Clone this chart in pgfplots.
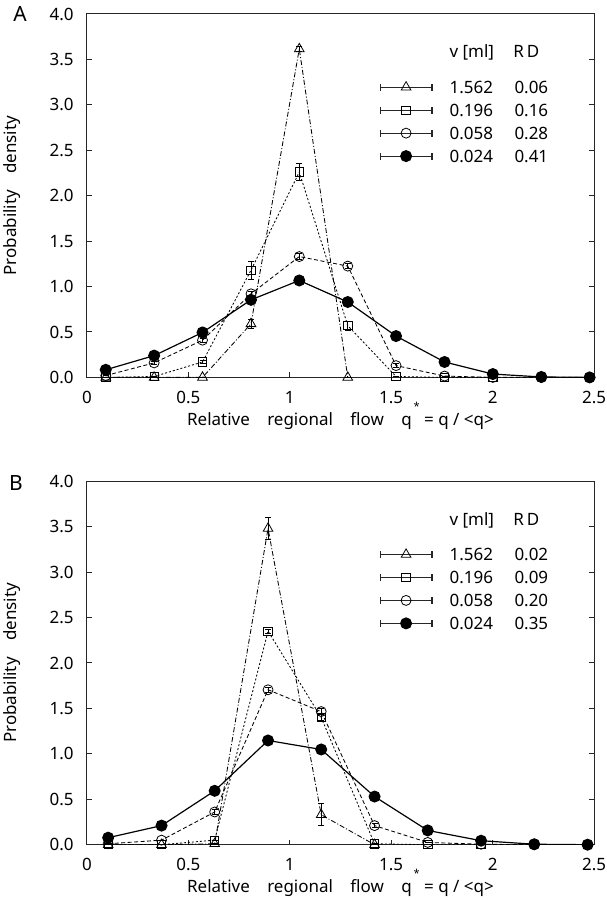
\documentclass[border=0pt]{standalone}
\usepackage{pgfplots}
\pgfplotsset{compat=1.18}
\usepackage{fontspec}
\setmainfont{Noto Sans}
\newcommand{\fs}{\fontsize{17bp}{20bp}\selectfont}
\newcommand{\qstar}{q\hspace{2bp}\raisebox{15bp}{\fontsize{11bp}{12bp}\selectfont *}}
\pgfplotsset{
  myaxis/.style={
    scale only axis, width=508bp, height=364bp,
    xmin=0, xmax=2.5, ymin=0, ymax=4,
    xtick={0,0.5,1,1.5,2,2.5}, xticklabels={0,0.5,1,1.5,2,2.5},
    ytick={0,0.5,1,1.5,2,2.5,3,3.5,4},
    yticklabels={0.0,0.5,1.0,1.5,2.0,2.5,3.0,3.5,4.0},
    tick align=inside, xtick pos=bottom, ytick pos=both, yticklabel pos=left,
    major tick length=5bp,
    axis line style={line width=1bp, black!85},
    every tick/.style={line width=1bp, black!85},
    tick label style={font=\fs},
    /pgf/number format/assume math mode=true,
    xticklabel style={anchor=base, inner sep=0pt, yshift=-26bp},
    yticklabel style={anchor=east, inner sep=0pt, xshift=-13bp},
    every axis y label/.style={at={(axis description cs:-0.148,0.5)}, rotate=90, anchor=center, font=\fs},
    every axis x label/.style={at={(axis description cs:0.5,0)}, anchor=base, yshift=-48bp, font=\fs},
    ylabel={Probability\hspace{12bp} density},
    xlabel={Relative\hspace{13bp} regional\hspace{13bp} flow\hspace{13bp} \qstar{} = q / <q>},
    legend style={draw=none, fill=none, inner sep=0pt, outer sep=0pt,
      at={(0.577,0.815)}, anchor=north west, font=\fs,
      nodes={inner sep=0pt, text height=12bp, text depth=0bp},
      row sep=11bp, column sep=17bp},
    legend cell align=left,
    legend image code/.code={
      \draw[solid, line width=1.2bp, black!85] (0bp,0bp) -- (52bp,0bp);
      \draw[solid, line width=1.2bp, black!85] (0bp,-3.5bp) -- (0bp,3.5bp) (52bp,-3.5bp) -- (52bp,3.5bp);
      \draw[solid] plot coordinates {(26bp,0bp)};
    },
  },
  tri/.style={black, line width=0.85bp, dash pattern=on 5bp off 2bp on 1bp off 2bp,
    mark=triangle, mark size=5.6bp, mark options={solid, fill=white, line width=0.8bp}},
  sq/.style={black, line width=0.85bp, dash pattern=on 2bp off 2bp,
    mark=square, mark size=4.2bp, mark options={solid, fill=white, line width=0.8bp}},
  circ/.style={black, line width=0.85bp, dash pattern=on 4bp off 2.5bp,
    mark=o, mark size=5bp, mark options={solid, fill=white, line width=0.8bp}},
  fil/.style={black, line width=1.2bp, solid,
    mark=*, mark size=5.4bp, mark options={solid, fill=black}},
  eb/.style={error bars/.cd, y dir=both, y explicit,
    error bar style={solid, line width=0.9bp},
    error mark options={rotate=90, mark size=3bp, solid, line width=0.9bp}},
}
\begin{document}
\begin{tikzpicture}[x=1bp,y=1bp]
\path (0bp,0bp) rectangle (605bp,-900bp);
\node[font=\fontsize{21bp}{23bp}\selectfont] at (18bp,-14bp) {A};
\node[font=\fontsize{21bp}{23bp}\selectfont] at (14bp,-484bp) {B};
% ---------------- Panel A
\begin{axis}[myaxis, at={(85bp,-378bp)}, anchor=south west]
\addplot[tri, eb] table[x=x, y=y, y error=e] {
x y e
0.093 0 0
0.3315 0 0
0.57 0 0
0.809 0.59 0.05
1.047 3.615 0.03
1.286 0 0
};
\addlegendentry{\makebox[65bp][l]{1.562}0.06}
\addplot[sq, eb] table[x=x, y=y, y error=e] {
x y e
0.093 0 0
0.3315 0.01 0
0.57 0.17 0.02
0.809 1.18 0.1
1.047 2.26 0.09
1.286 0.57 0.05
1.524 0.01 0
1.763 0 0
2.001 0 0
};
\addlegendentry{\makebox[65bp][l]{0.196}0.16}
\addplot[circ, eb] table[x=x, y=y, y error=e] {
x y e
0.093 0.02 0
0.3315 0.16 0.02
0.57 0.41 0.02
0.809 0.92 0.03
1.047 1.33 0.03
1.286 1.225 0.03
1.524 0.13 0.02
1.763 0.015 0
2.001 0 0
2.24 0 0
2.478 0 0
};
\addlegendentry{\makebox[65bp][l]{0.058}0.28}
\addplot[fil, eb] table[x=x, y=y, y error=e] {
x y e
0.093 0.084 0
0.3315 0.24 0
0.57 0.495 0
0.809 0.854 0
1.047 1.067 0
1.286 0.83 0
1.524 0.455 0
1.763 0.17 0
2.001 0.037 0
2.24 0.005 0
2.478 0 0
};
\addlegendentry{\makebox[65bp][l]{0.024}0.41}
\node[anchor=base west, font=\fs, inner sep=0pt] at (rel axis cs:0.7146,0.879) {v [ml]};
\node[anchor=base west, font=\fs, inner sep=0pt] at (rel axis cs:0.8406,0.879) {R\,D};
\end{axis}
% ---------------- Panel B
\begin{axis}[myaxis, at={(85bp,-846bp)}, anchor=south west]
\addplot[tri, eb] table[x=x, y=y, y error=e] {
x y e
0.105 0 0
0.368 0 0
0.63 0.01 0
0.893 3.48 0.12
1.155 0.33 0.12
1.418 0 0
};
\addlegendentry{\makebox[65bp][l]{1.562}0.02}
\addplot[sq, eb] table[x=x, y=y, y error=e] {
x y e
0.105 0 0
0.368 0 0
0.63 0.05 0
0.893 2.35 0.02
1.155 1.40 0.03
1.418 0.01 0
1.68 0 0
1.943 0 0
};
\addlegendentry{\makebox[65bp][l]{0.196}0.09}
\addplot[circ, eb] table[x=x, y=y, y error=e] {
x y e
0.105 0.01 0
0.368 0.05 0
0.63 0.36 0.03
0.893 1.705 0.03
1.155 1.465 0.03
1.418 0.21 0.02
1.68 0.025 0
1.943 0.005 0
2.205 0 0
2.468 0 0
};
\addlegendentry{\makebox[65bp][l]{0.058}0.20}
\addplot[fil, eb] table[x=x, y=y, y error=e] {
x y e
0.105 0.077 0
0.368 0.21 0
0.63 0.593 0
0.893 1.147 0
1.155 1.048 0
1.418 0.53 0
1.68 0.157 0
1.943 0.044 0
2.205 0.005 0
2.468 0 0
};
\addlegendentry{\makebox[65bp][l]{0.024}0.35}
\node[anchor=base west, font=\fs, inner sep=0pt] at (rel axis cs:0.7146,0.879) {v [ml]};
\node[anchor=base west, font=\fs, inner sep=0pt] at (rel axis cs:0.8406,0.879) {R\,D};
\end{axis}
\end{tikzpicture}
\end{document}
